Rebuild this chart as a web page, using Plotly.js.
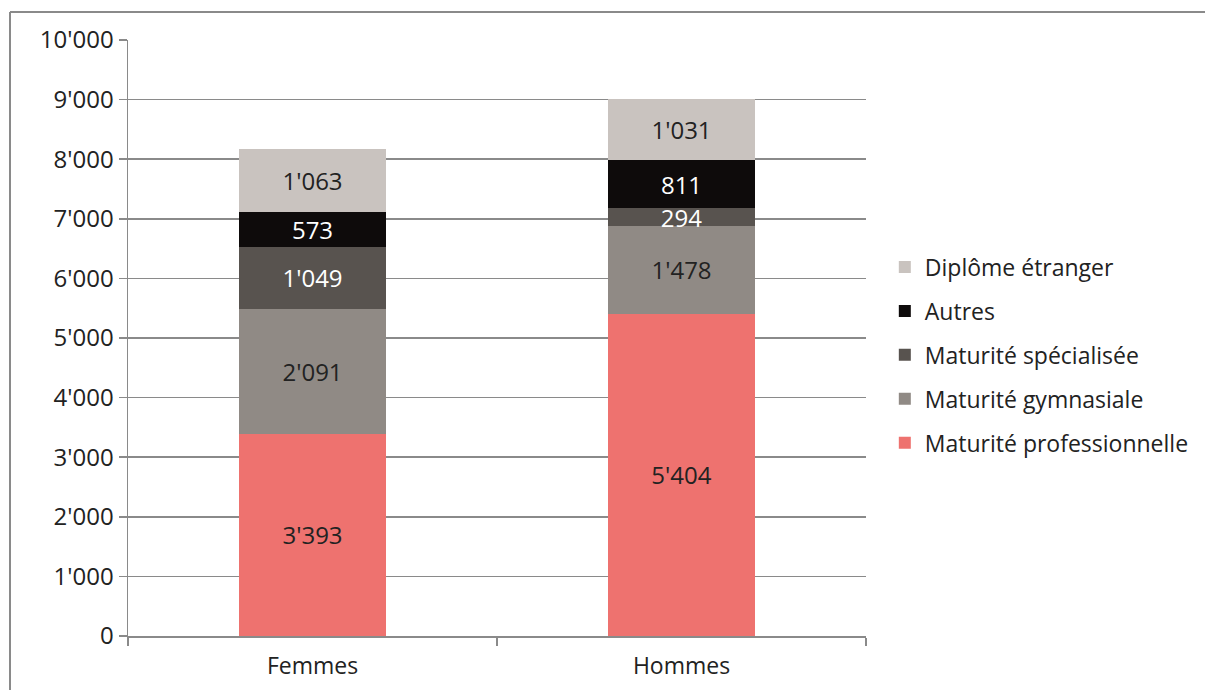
<!DOCTYPE html>
<html>
<head>
<meta charset="utf-8">
<script src="https://cdn.plot.ly/plotly-3.0.1.min.js"></script>
<style>
html,body{margin:0;padding:0;background:#fff;}
#chart{width:1205px;height:690px;}
</style>
</head>
<body>
<div id="chart"></div>
<script>
var categories = ["Femmes", "Hommes"];
var seriesNames = ["Maturité professionnelle", "Maturité gymnasiale", "Maturité spécialisée", "Autres", "Diplôme étranger"];
var maturiteProfessionnelle = [3393, 5404];
var maturiteGymnasiale = [2091, 1478];
var maturiteSpecialisee = [1049, 294];
var autres = [573, 811];
var diplomeEtranger = [1063, 1031];
var yTickVals = [0, 1000, 2000, 3000, 4000, 5000, 6000, 7000, 8000, 9000, 10000];

var seriesValues = [maturiteProfessionnelle, maturiteGymnasiale, maturiteSpecialisee, autres, diplomeEtranger];
var colors = ["#ee726f", "#908a85", "#58534f", "#0e0b0b", "#c9c3bf"];
var textColors = ["#222222", "#222222", "#ffffff", "#ffffff", "#222222"];

function fmt(v) {
  return String(v).replace(/\B(?=(\d{3})+(?!\d))/g, "'");
}

var FONT = "'Open Sans', 'Noto Sans', sans-serif";

var traces = seriesValues.map(function (vals, i) {
  return {
    type: "bar",
    name: seriesNames[i],
    x: categories,
    y: vals,
    text: vals.map(fmt),
    textposition: "inside",
    insidetextanchor: "middle",
    constraintext: "none",
    textangle: 0,
    textfont: {family: FONT, size: 24, color: textColors[i]},
    marker: {color: colors[i], line: {width: 0}},
    hoverinfo: "none",
    legendgroup: "g" + i,
    legendrank: 10 - i
  };
});

var L = 128, R = 866, T = 40, B = 636;
function px(x) { return (x - L) / (R - L); }
function py(y) { return (B - y) / (B - T); }

var layout = {
  width: 1205,
  height: 690,
  margin: {l: L, r: 1205 - R, t: T, b: 690 - B, pad: 0, autoexpand: false},
  paper_bgcolor: "#ffffff",
  plot_bgcolor: "#ffffff",
  barmode: "stack",
  bargap: 0.6,
  font: {family: FONT, size: 23, color: "#222222"},
  showlegend: true,
  legend: {
    x: 1.0255, y: 0.655, xanchor: "left", yanchor: "top",
    traceorder: "grouped",
    tracegroupgap: 11,
    font: {family: FONT, size: 23, color: "#222222"},
    itemwidth: 30,
    bgcolor: "rgba(0,0,0,0)"
  },
  xaxis: {
    type: "category",
    showgrid: false,
    showline: true,
    linecolor: "#8a8a8a",
    linewidth: 1.5,
    ticks: "outside",
    tickson: "boundaries",
    ticklen: 8,
    tickcolor: "#8a8a8a",
    tickwidth: 1.5,
    ticklabelstandoff: 9,
    tickfont: {family: FONT, size: 23, color: "#222222"},
    zeroline: false,
    fixedrange: true
  },
  yaxis: {
    range: [0, 10000],
    tickvals: yTickVals,
    ticktext: yTickVals.map(fmt),
    showgrid: true,
    gridcolor: "#8a8a8a",
    gridwidth: 1.5,
    showline: true,
    linecolor: "#8a8a8a",
    linewidth: 1.5,
    ticks: "outside",
    ticklen: 8,
    tickcolor: "#8a8a8a",
    tickwidth: 1.5,
    tickfont: {family: FONT, size: 24, color: "#222222"},
    zeroline: false,
    fixedrange: true
  },
  shapes: [
    {type: "line", xref: "paper", yref: "paper", x0: px(10), x1: px(10), y0: py(12), y1: py(700), line: {color: "#8a8a8a", width: 2}},
    {type: "line", xref: "paper", yref: "paper", x0: px(10), x1: px(1210), y0: py(12), y1: py(12), line: {color: "#8a8a8a", width: 2}}
  ]
};

Plotly.newPlot("chart", traces, layout, {displayModeBar: false, staticPlot: true});
</script>
</body>
</html>
